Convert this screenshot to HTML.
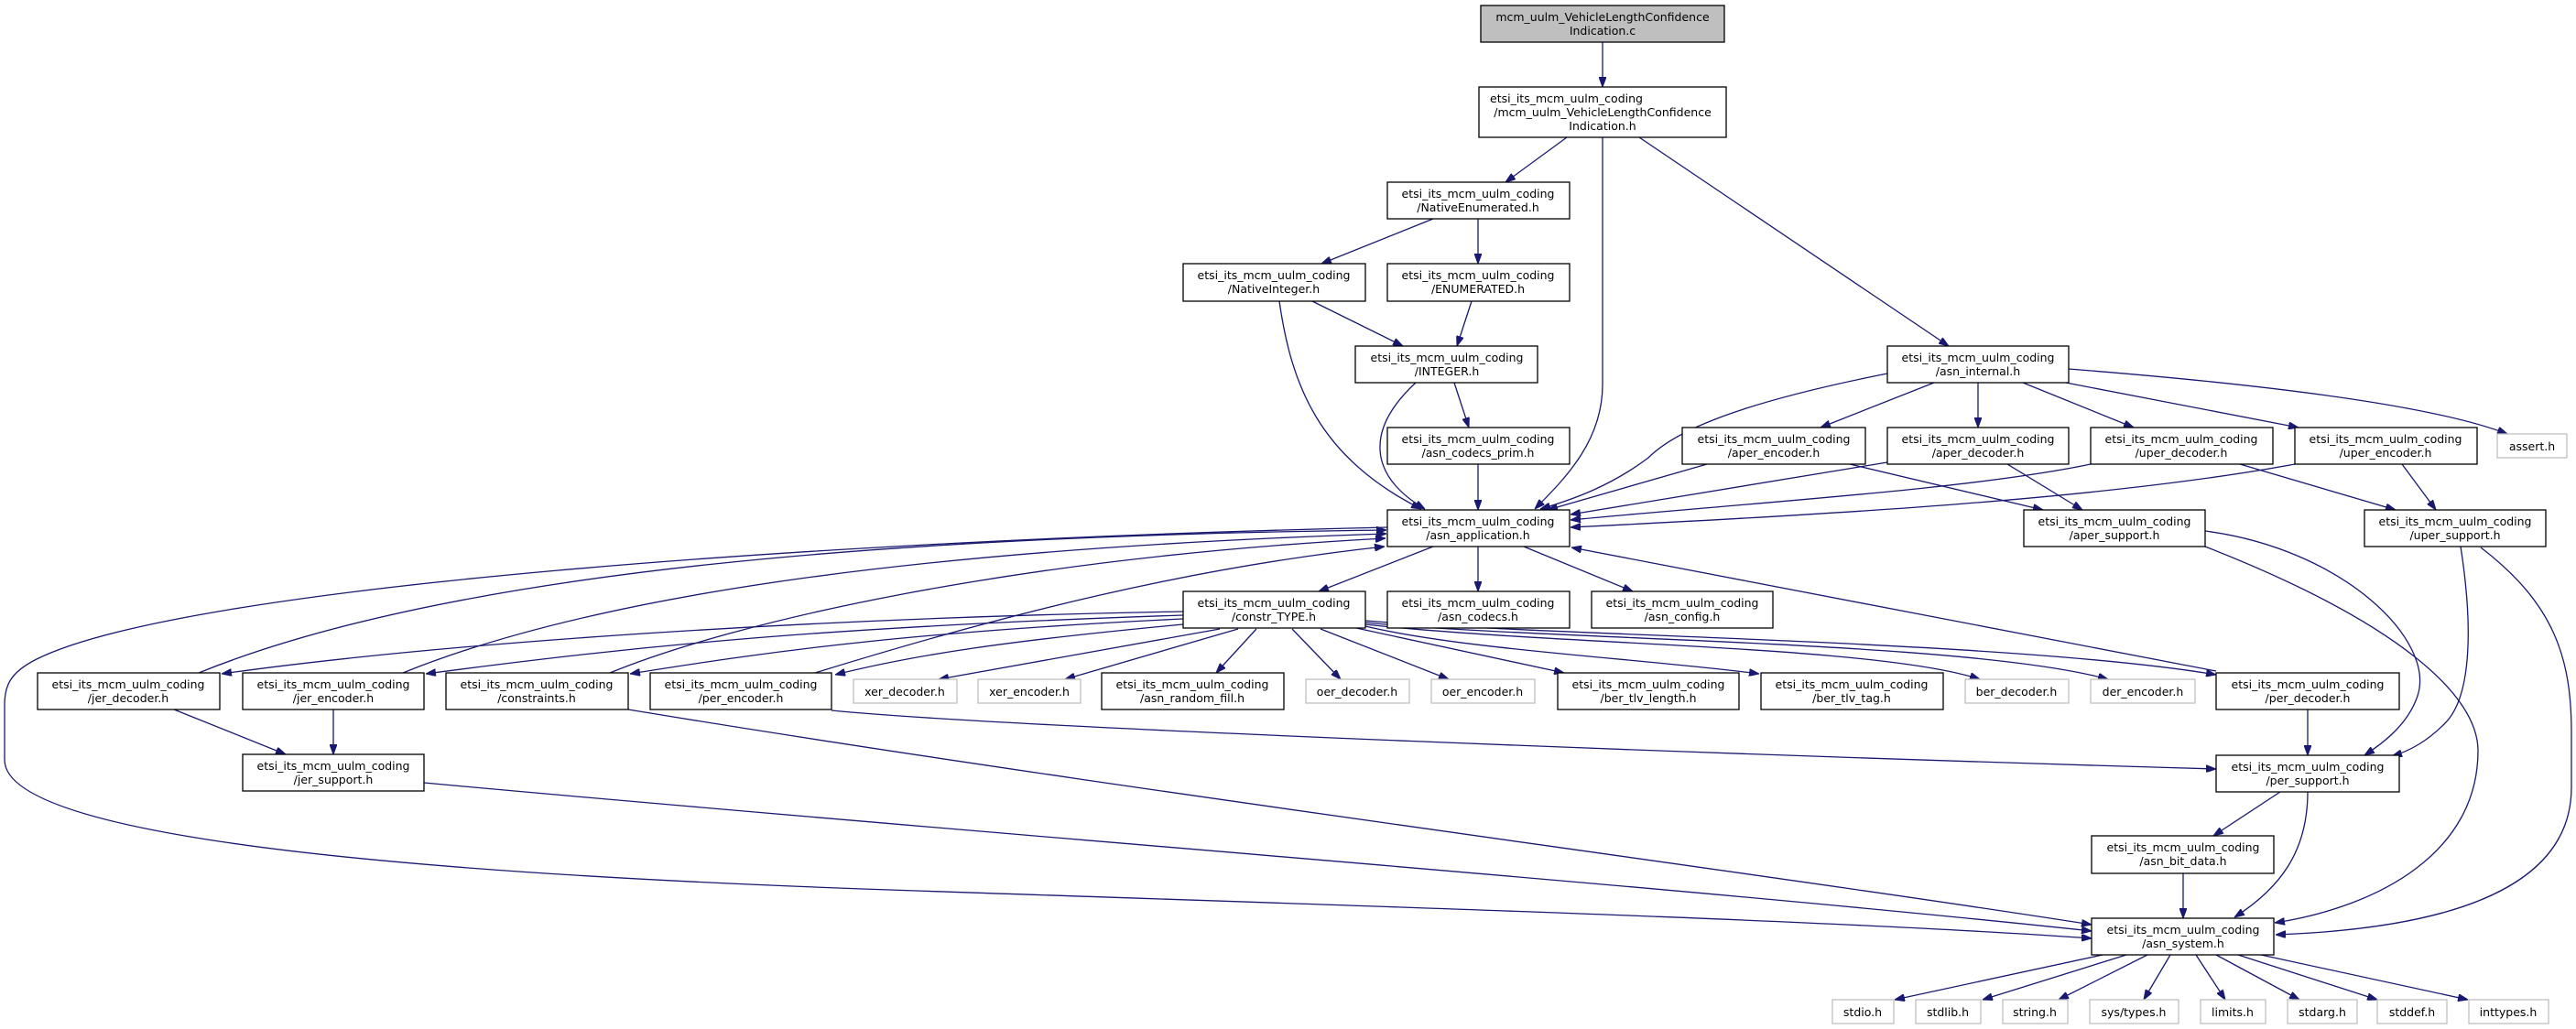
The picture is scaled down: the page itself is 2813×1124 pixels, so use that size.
<!DOCTYPE html>
<html><head><meta charset="utf-8"><style>
html,body{margin:0;padding:0;background:#fff;}
svg{display:block;}
text{font-family:"DejaVu Sans","Liberation Sans",sans-serif;font-size:12.5px;fill:#000;text-anchor:middle;}
.b{fill:#fff;stroke:#000;stroke-width:1.3;}
.g{fill:#fff;stroke:#bfbfbf;stroke-width:1.3;}
.e{fill:none;stroke:#191970;stroke-width:1.3;marker-end:url(#a);}
</style></head><body>
<svg width="2813" height="1124" viewBox="0 0 2813 1124" xmlns="http://www.w3.org/2000/svg">
<defs><marker id="a" markerUnits="userSpaceOnUse" markerWidth="11" markerHeight="8" refX="11" refY="4" orient="auto"><path d="M0,0 L11,4 L0,8 z" fill="#191970" stroke="#191970"/></marker></defs>

<!-- edges -->
<path class="e" d="M1750,46 L1750,95"/>
<path class="e" d="M1711,150 L1644,199"/>
<path class="e" d="M1750,150 L1750,420 C1750,480 1712,520 1676,556"/>
<path class="e" d="M1790,150 L2128,378"/>
<path class="e" d="M1565,239 L1443,288"/>
<path class="e" d="M1614,239 L1614,288"/>
<path class="e" d="M1433,329 L1532,378"/>
<path class="e" d="M1607,329 L1591,378"/>
<path class="e" d="M1397,329 C1410,420 1440,500 1552,556"/>
<path class="e" d="M1546,418 C1490,470 1495,520 1556,556"/>
<path class="e" d="M1588,418 L1604,467"/>
<path class="e" d="M1614,507 L1614,557"/>
<path class="e" d="M2061,408 C1900,440 1830,470 1800,500 C1760,530 1720,545 1682,556"/>
<path class="e" d="M2112,418 L1988,467"/>
<path class="e" d="M2160,418 L2160,467"/>
<path class="e" d="M2209,418 L2330,467"/>
<path class="e" d="M2256,418 L2510,467"/>
<path class="e" d="M2259,403 C2450,418 2650,440 2738,474"/>
<path class="e" d="M1864,507 L1690,557"/>
<path class="e" d="M2020,507 L2231,557"/>
<path class="e" d="M2061,505 L1715,562"/>
<path class="e" d="M2192,507 L2274,557"/>
<path class="e" d="M2283,507 C2150,535 1900,550 1715,568"/>
<path class="e" d="M2446,507 L2616,557"/>
<path class="e" d="M2506,507 C2300,545 2000,562 1715,576"/>
<path class="e" d="M2623,507 L2660,557"/>
<path class="e" d="M2408,580 C2560,600 2660,700 2640,760 C2630,790 2605,810 2582,825"/>
<path class="e" d="M2408,597 C2620,680 2706,760 2706,820 C2706,930 2600,990 2484,1008"/>
<path class="e" d="M2687,597 C2700,680 2700,760 2670,790 C2650,810 2632,820 2612,826"/>
<path class="e" d="M2709,598 C2790,660 2808,720 2808,800 L2808,860 C2808,980 2650,1015 2485,1021"/>
<path class="e" d="M2420,733 L1716,598"/>
<path class="e" d="M2520,775 L2520,825"/>
<path class="e" d="M908,776 C1100,795 1900,825 2420,840"/>
<path class="e" d="M686,775 C1200,860 1900,950 2284,1010"/>
<path class="e" d="M463,855 C1000,905 1800,965 2284,1017"/>
<path class="e" d="M1515,576 C900,590 200,640 40,720 C10,735 5,750 5,770 L5,830 C5,900 300,950 1000,973 C1500,990 2000,1005 2284,1025"/>
<path class="e" d="M217,735 C500,620 1000,585 1514,579"/>
<path class="e" d="M440,735 C650,650 1000,600 1514,583"/>
<path class="e" d="M666,735 C800,680 1100,610 1513,588"/>
<path class="e" d="M890,735 C1100,670 1300,620 1512,597"/>
<path class="e" d="M1292,668 C900,675 500,700 242,736"/>
<path class="e" d="M1292,672 C900,685 700,705 465,736"/>
<path class="e" d="M1292,676 C1000,690 850,710 688,736"/>
<path class="e" d="M1292,682 C1100,700 1000,715 912,737"/>
<path class="e" d="M1332,687 L1025,742"/>
<path class="e" d="M1352,687 L1163,742"/>
<path class="e" d="M1372,687 L1328,735"/>
<path class="e" d="M1411,687 L1464,742"/>
<path class="e" d="M1442,687 L1582,742"/>
<path class="e" d="M1481,686 L1708,735"/>
<path class="e" d="M1491,684 C1600,710 1800,720 1921,736"/>
<path class="e" d="M1491,682 C1700,705 2050,705 2162,742"/>
<path class="e" d="M1491,680 C1700,700 2150,700 2302,742"/>
<path class="e" d="M1491,678 C1700,695 2200,700 2420,737"/>
<path class="e" d="M1565,597 L1440,646"/>
<path class="e" d="M1614,597 L1614,646"/>
<path class="e" d="M1664,597 L1783,646"/>
<path class="e" d="M190,775 L312,824"/>
<path class="e" d="M364,775 L364,824"/>
<path class="e" d="M2490,865 L2417,913"/>
<path class="e" d="M2520,865 C2520,930 2490,970 2440,1002"/>
<path class="e" d="M2384,954 L2384,1003"/>
<path class="e" d="M2296,1043 L2069,1092"/>
<path class="e" d="M2322,1043 L2165,1092"/>
<path class="e" d="M2345,1043 L2248,1092"/>
<path class="e" d="M2370,1043 L2341,1092"/>
<path class="e" d="M2398,1043 L2430,1092"/>
<path class="e" d="M2420,1043 L2511,1092"/>
<path class="e" d="M2444,1043 L2596,1092"/>
<path class="e" d="M2469,1043 L2695,1092"/>

<!-- nodes -->
<rect x="1617" y="6" width="266" height="40" fill="#bfbfbf" stroke="#000" stroke-width="1.3"/>
<text x="1750" y="23">mcm_uulm_VehicleLengthConfidence</text><text x="1750" y="38">Indication.c</text>

<rect class="b" x="1615" y="95" width="270" height="55"/>
<text x="1627" y="112" style="text-anchor:start">etsi_its_mcm_uulm_coding</text>
<text x="1750" y="127">/mcm_uulm_VehicleLengthConfidence</text><text x="1750" y="142">Indication.h</text>

<rect class="b" x="1515" y="199" width="199" height="40"/><text x="1614" y="216">etsi_its_mcm_uulm_coding</text><text x="1614" y="231">/NativeEnumerated.h</text>
<rect class="b" x="1292" y="288" width="199" height="41"/><text x="1391" y="305">etsi_its_mcm_uulm_coding</text><text x="1391" y="320">/NativeInteger.h</text>
<rect class="b" x="1515" y="288" width="199" height="41"/><text x="1614" y="305">etsi_its_mcm_uulm_coding</text><text x="1614" y="320">/ENUMERATED.h</text>
<rect class="b" x="1480" y="378" width="199" height="40"/><text x="1580" y="395">etsi_its_mcm_uulm_coding</text><text x="1580" y="410">/INTEGER.h</text>
<rect class="b" x="1515" y="467" width="199" height="40"/><text x="1614" y="484">etsi_its_mcm_uulm_coding</text><text x="1614" y="499">/asn_codecs_prim.h</text>
<rect class="b" x="1515" y="557" width="199" height="40"/><text x="1614" y="574">etsi_its_mcm_uulm_coding</text><text x="1614" y="589">/asn_application.h</text>
<rect class="b" x="2061" y="378" width="198" height="40"/><text x="2160" y="395">etsi_its_mcm_uulm_coding</text><text x="2160" y="410">/asn_internal.h</text>
<rect class="b" x="1837" y="467" width="200" height="40"/><text x="1937" y="484">etsi_its_mcm_uulm_coding</text><text x="1937" y="499">/aper_encoder.h</text>
<rect class="b" x="2061" y="467" width="198" height="40"/><text x="2160" y="484">etsi_its_mcm_uulm_coding</text><text x="2160" y="499">/aper_decoder.h</text>
<rect class="b" x="2283" y="467" width="199" height="40"/><text x="2382" y="484">etsi_its_mcm_uulm_coding</text><text x="2382" y="499">/uper_decoder.h</text>
<rect class="b" x="2506" y="467" width="199" height="40"/><text x="2605" y="484">etsi_its_mcm_uulm_coding</text><text x="2605" y="499">/uper_encoder.h</text>
<rect class="g" x="2727" y="474" width="76" height="26"/><text x="2765" y="492">assert.h</text>
<rect class="b" x="2210" y="557" width="198" height="40"/><text x="2309" y="574">etsi_its_mcm_uulm_coding</text><text x="2309" y="589">/aper_support.h</text>
<rect class="b" x="2582" y="557" width="198" height="40"/><text x="2681" y="574">etsi_its_mcm_uulm_coding</text><text x="2681" y="589">/uper_support.h</text>
<rect class="b" x="1292" y="646" width="199" height="40"/><text x="1391" y="663">etsi_its_mcm_uulm_coding</text><text x="1391" y="678">/constr_TYPE.h</text>
<rect class="b" x="1515" y="646" width="199" height="40"/><text x="1614" y="663">etsi_its_mcm_uulm_coding</text><text x="1614" y="678">/asn_codecs.h</text>
<rect class="b" x="1738" y="646" width="198" height="40"/><text x="1837" y="663">etsi_its_mcm_uulm_coding</text><text x="1837" y="678">/asn_config.h</text>

<rect class="b" x="41" y="735" width="199" height="40"/><text x="140" y="752">etsi_its_mcm_uulm_coding</text><text x="140" y="767">/jer_decoder.h</text>
<rect class="b" x="265" y="735" width="198" height="40"/><text x="364" y="752">etsi_its_mcm_uulm_coding</text><text x="364" y="767">/jer_encoder.h</text>
<rect class="b" x="487" y="735" width="199" height="40"/><text x="586" y="752">etsi_its_mcm_uulm_coding</text><text x="586" y="767">/constraints.h</text>
<rect class="b" x="710" y="735" width="198" height="40"/><text x="809" y="752">etsi_its_mcm_uulm_coding</text><text x="809" y="767">/per_encoder.h</text>
<rect class="g" x="932" y="742" width="113" height="26"/><text x="988" y="760">xer_decoder.h</text>
<rect class="g" x="1068" y="742" width="112" height="26"/><text x="1124" y="760">xer_encoder.h</text>
<rect class="b" x="1203" y="735" width="199" height="40"/><text x="1302" y="752">etsi_its_mcm_uulm_coding</text><text x="1302" y="767">/asn_random_fill.h</text>
<rect class="g" x="1426" y="742" width="113" height="26"/><text x="1482" y="760">oer_decoder.h</text>
<rect class="g" x="1563" y="742" width="113" height="26"/><text x="1619" y="760">oer_encoder.h</text>
<rect class="b" x="1701" y="735" width="198" height="40"/><text x="1800" y="752">etsi_its_mcm_uulm_coding</text><text x="1800" y="767">/ber_tlv_length.h</text>
<rect class="b" x="1923" y="735" width="199" height="40"/><text x="2022" y="752">etsi_its_mcm_uulm_coding</text><text x="2022" y="767">/ber_tlv_tag.h</text>
<rect class="g" x="2146" y="742" width="113" height="26"/><text x="2202" y="760">ber_decoder.h</text>
<rect class="g" x="2283" y="742" width="114" height="26"/><text x="2340" y="760">der_encoder.h</text>
<rect class="b" x="2420" y="735" width="200" height="40"/><text x="2520" y="752">etsi_its_mcm_uulm_coding</text><text x="2520" y="767">/per_decoder.h</text>

<rect class="b" x="265" y="824" width="198" height="40"/><text x="364" y="841">etsi_its_mcm_uulm_coding</text><text x="364" y="856">/jer_support.h</text>
<rect class="b" x="2420" y="825" width="200" height="40"/><text x="2520" y="842">etsi_its_mcm_uulm_coding</text><text x="2520" y="857">/per_support.h</text>
<rect class="b" x="2284" y="913" width="199" height="41"/><text x="2384" y="930">etsi_its_mcm_uulm_coding</text><text x="2384" y="945">/asn_bit_data.h</text>
<rect class="b" x="2284" y="1003" width="199" height="40"/><text x="2384" y="1020">etsi_its_mcm_uulm_coding</text><text x="2384" y="1035">/asn_system.h</text>

<rect class="g" x="2001" y="1092" width="67" height="26"/><text x="2034" y="1110">stdio.h</text>
<rect class="g" x="2092" y="1092" width="71" height="26"/><text x="2127" y="1110">stdlib.h</text>
<rect class="g" x="2187" y="1092" width="71" height="26"/><text x="2222" y="1110">string.h</text>
<rect class="g" x="2282" y="1092" width="97" height="26"/><text x="2330" y="1110">sys/types.h</text>
<rect class="g" x="2403" y="1092" width="71" height="26"/><text x="2438" y="1110">limits.h</text>
<rect class="g" x="2498" y="1092" width="76" height="26"/><text x="2536" y="1110">stdarg.h</text>
<rect class="g" x="2596" y="1092" width="76" height="26"/><text x="2634" y="1110">stddef.h</text>
<rect class="g" x="2696" y="1092" width="87" height="26"/><text x="2739" y="1110">inttypes.h</text>
</svg>
</body></html>
